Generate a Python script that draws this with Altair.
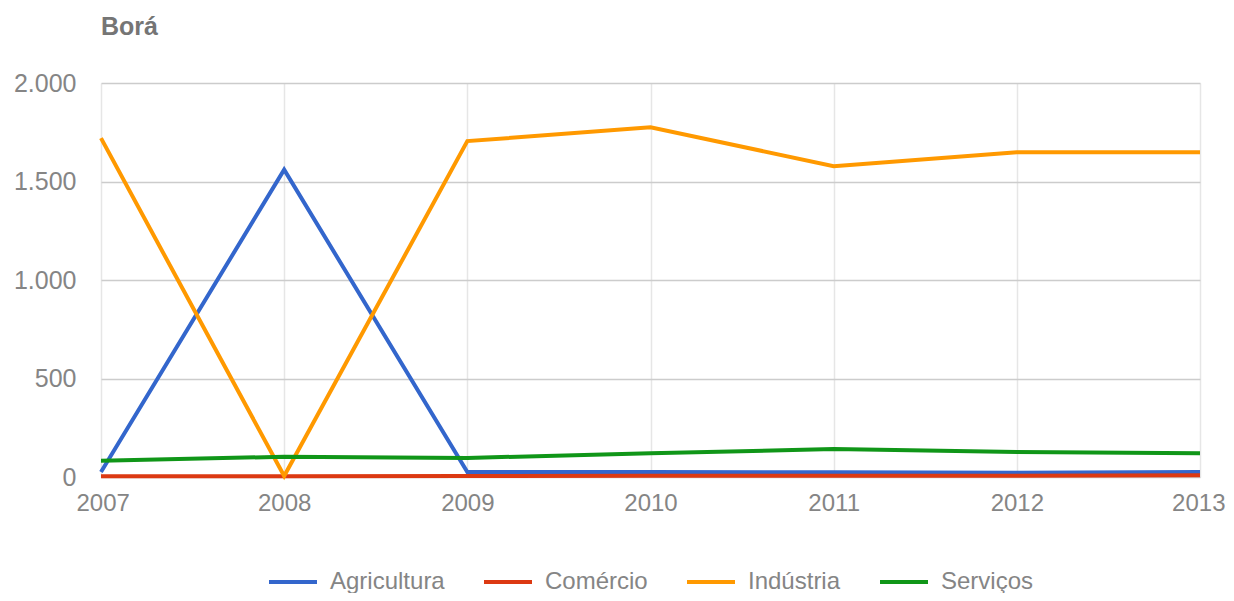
import altair as alt
import pandas as pd

years = ["2007", "2008", "2009", "2010", "2011", "2012", "2013"]
series_names = ["Agricultura", "Comércio", "Indústria", "Serviços"]
agricultura = [25, 1560, 25, 25, 24, 22, 25]
comercio = [4, 4, 5, 6, 6, 6, 9]
industria = [1720, 5, 1705, 1775, 1578, 1648, 1648]
servicos = [82, 103, 97, 120, 142, 127, 120]
colors = ["#3366CC", "#DC3912", "#FF9900", "#109618"]
y_ticks = [0, 500, 1000, 1500, 2000]

rows = []
for name, vals in zip(series_names, [agricultura, comercio, industria, servicos]):
    for yr, v in zip(years, vals):
        rows.append({"Ano": yr, "Setor": name, "Valor": v, "ord": series_names.index(name)})
df = pd.DataFrame(rows)

FONT = "Liberation Sans"
GRAY = "#858585"

chart = (
    alt.Chart(df)
    .mark_line(strokeWidth=4)
    .encode(
        x=alt.X(
            "Ano:O",
            sort=years,
            scale=alt.Scale(type="point", padding=0),
            axis=alt.Axis(
                title=None,
                labelAngle=0,
                labelFontSize=24,
                labelColor=GRAY,
                labelFont=FONT,
                labelPadding=14,
                labelFlush=True,
                labelFlushOffset=25,
                ticks=False,
                domain=False,
                grid=True,
                gridColor="#e6e6e6",
                gridWidth=1.5,
            ),
        ),
        y=alt.Y(
            "Valor:Q",
            scale=alt.Scale(domain=[0, 2000], nice=False),
            axis=alt.Axis(
                title=None,
                values=y_ticks,
                labelExpr="replace(format(datum.value, ','), ',', '.')",
                labelFontSize=25,
                labelColor=GRAY,
                labelFont=FONT,
                labelPadding=25,
                ticks=False,
                domain=False,
                grid=True,
                gridColor="#cccccc",
                gridWidth=1.5,
            ),
        ),
        color=alt.Color(
            "Setor:N",
            scale=alt.Scale(domain=series_names, range=colors),
            legend=alt.Legend(
                title=None,
                orient="none",
                direction="horizontal",
                legendX=166,
                legendY=473,
                symbolType="stroke",
                symbolSize=2304,
                symbolStrokeWidth=4,
                labelFontSize=24,
                labelColor=GRAY,
                labelFont=FONT,
                labelOffset=11,
                columnPadding=31,
            ),
        ),
        order=alt.Order("ord:Q"),
        detail="Setor:N",
    )
    .properties(
        width=1099,
        height=394,
        autosize=alt.AutoSizeParams(type="none"),
        padding={"left": 93, "top": 75, "right": 26, "bottom": 116},
        title=alt.TitleParams(
            text="Borá",
            anchor="start",
            frame="group",
            font=FONT,
            fontSize=25,
            fontWeight="bold",
            color="#757575",
            offset=31,
        ),
    )
    .configure_view(stroke=None)
)

chart.save("out.html", embed_options={"renderer": "svg", "actions": False})
